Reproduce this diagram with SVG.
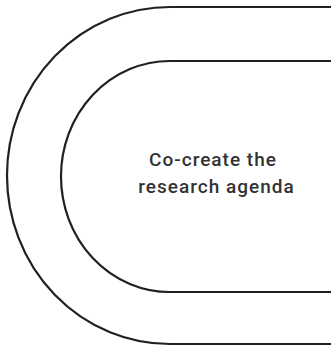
<svg xmlns="http://www.w3.org/2000/svg" width="331" height="347" viewBox="0 0 331 347">
<style>
.ln{fill:none;stroke:#231f20;stroke-width:2.2}
.t{font-family:Roboto,"Liberation Sans",sans-serif;font-size:19px;font-weight:500;letter-spacing:1px;fill:#333;text-anchor:middle}
</style>
<rect width="331" height="347" fill="#fff"/>
<g id="outer"><path class="ln" d="M331,7 H170 A163,168.5 0 0 0 170,344 H331"/></g>
<g id="inner"><path class="ln" d="M331,61 H170 A109,115.5 0 0 0 170,292 H331"/></g>
<g id="label"><text class="t" x="213" y="166">Co-create the</text><text class="t" x="216.5" y="193">research agenda</text></g>
</svg>
